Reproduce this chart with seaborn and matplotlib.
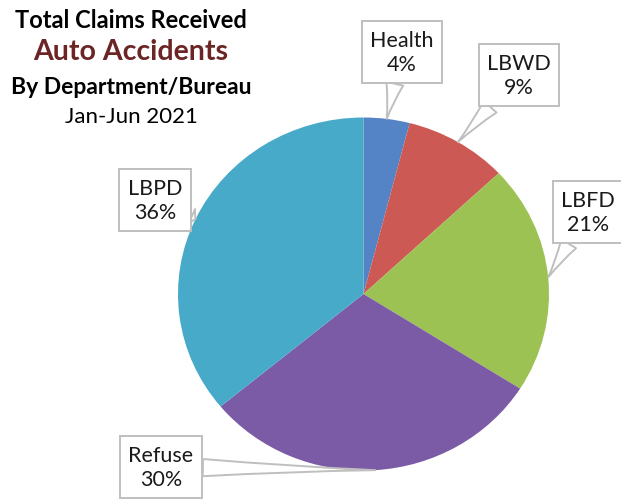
import matplotlib
matplotlib.use('Agg')
import matplotlib.pyplot as plt
import numpy as np
import seaborn as sns

# data
departments = ['Health', 'LBWD', 'LBFD', 'Refuse', 'LBPD']
shares = [4, 9, 21, 30, 36]
colors = ['#5584C6', '#CC5954', '#9DC254', '#7C5BA6', '#46AAC8']

title_lines = ['Total Claims Received', 'Auto Accidents', 'By Department/Bureau', 'Jan-Jun 2021']

sns.set_theme(style='white')
plt.rcParams['font.family'] = ['Lato', 'DejaVu Sans']

W, H = 621, 502
fig = plt.figure(figsize=(W / 100, H / 100), dpi=100)
ax = fig.add_axes([0, 0, 1, 1])

# pie geometry in pixels (slightly squashed ellipse, like the original)
cx, cy, rx, ry = 363.5, 295, 185.5, 176.5


def px(x, y):
    # pixel (from top-left) -> data coords of the unit pie
    return (x - cx) / rx, (cy - y) / ry


wedges, _ = ax.pie(shares, colors=colors, startangle=90, counterclock=False,
                   radius=1, wedgeprops=dict(linewidth=0))
ax.set_xlim(px(0, 0)[0], px(W, 0)[0])
ax.set_ylim(px(0, H)[1], px(0, 0)[1])
ax.set_aspect('auto')
ax.axis('off')

# label box centres (pixels)
box_pos = {
    'Health': (402, 53),
    'LBWD': (519, 76),
    'LBFD': (588, 213),
    'Refuse': (161, 468),
    'LBPD': (155, 201),
}

for w, name, val in zip(wedges, departments, shares):
    ang = np.deg2rad((w.theta1 + w.theta2) / 2)
    tip = (np.cos(ang), np.sin(ang))
    ax.annotate(f'{name}\n{val}%', xy=tip, xytext=px(*box_pos[name]),
                ha='center', va='center', fontsize=15.5, color='#1a1a1a',
                linespacing=1.3,
                bbox=dict(boxstyle='square,pad=0.4', fc='white', ec='#BFBFBF', lw=1.4),
                arrowprops=dict(arrowstyle='wedge,tail_width=0.8,shrink_factor=0.4',
                                fc='white', ec='#BFBFBF', lw=1.4,
                                shrinkA=0, shrinkB=0))

# title block
fig.text(131 / W, 1 - 21 / H, title_lines[0], ha='center', va='center',
         fontsize=17, fontweight='bold', color='black')
fig.text(131 / W, 1 - 52 / H, title_lines[1], ha='center', va='center',
         fontsize=20.5, fontweight='bold', color='#6B2525')
fig.text(131 / W, 1 - 87 / H, title_lines[2], ha='center', va='center',
         fontsize=16.5, fontweight='bold', color='black')
fig.text(131 / W, 1 - 117 / H, title_lines[3], ha='center', va='center',
         fontsize=16, color='black')

fig.savefig('out.png', dpi=100)
